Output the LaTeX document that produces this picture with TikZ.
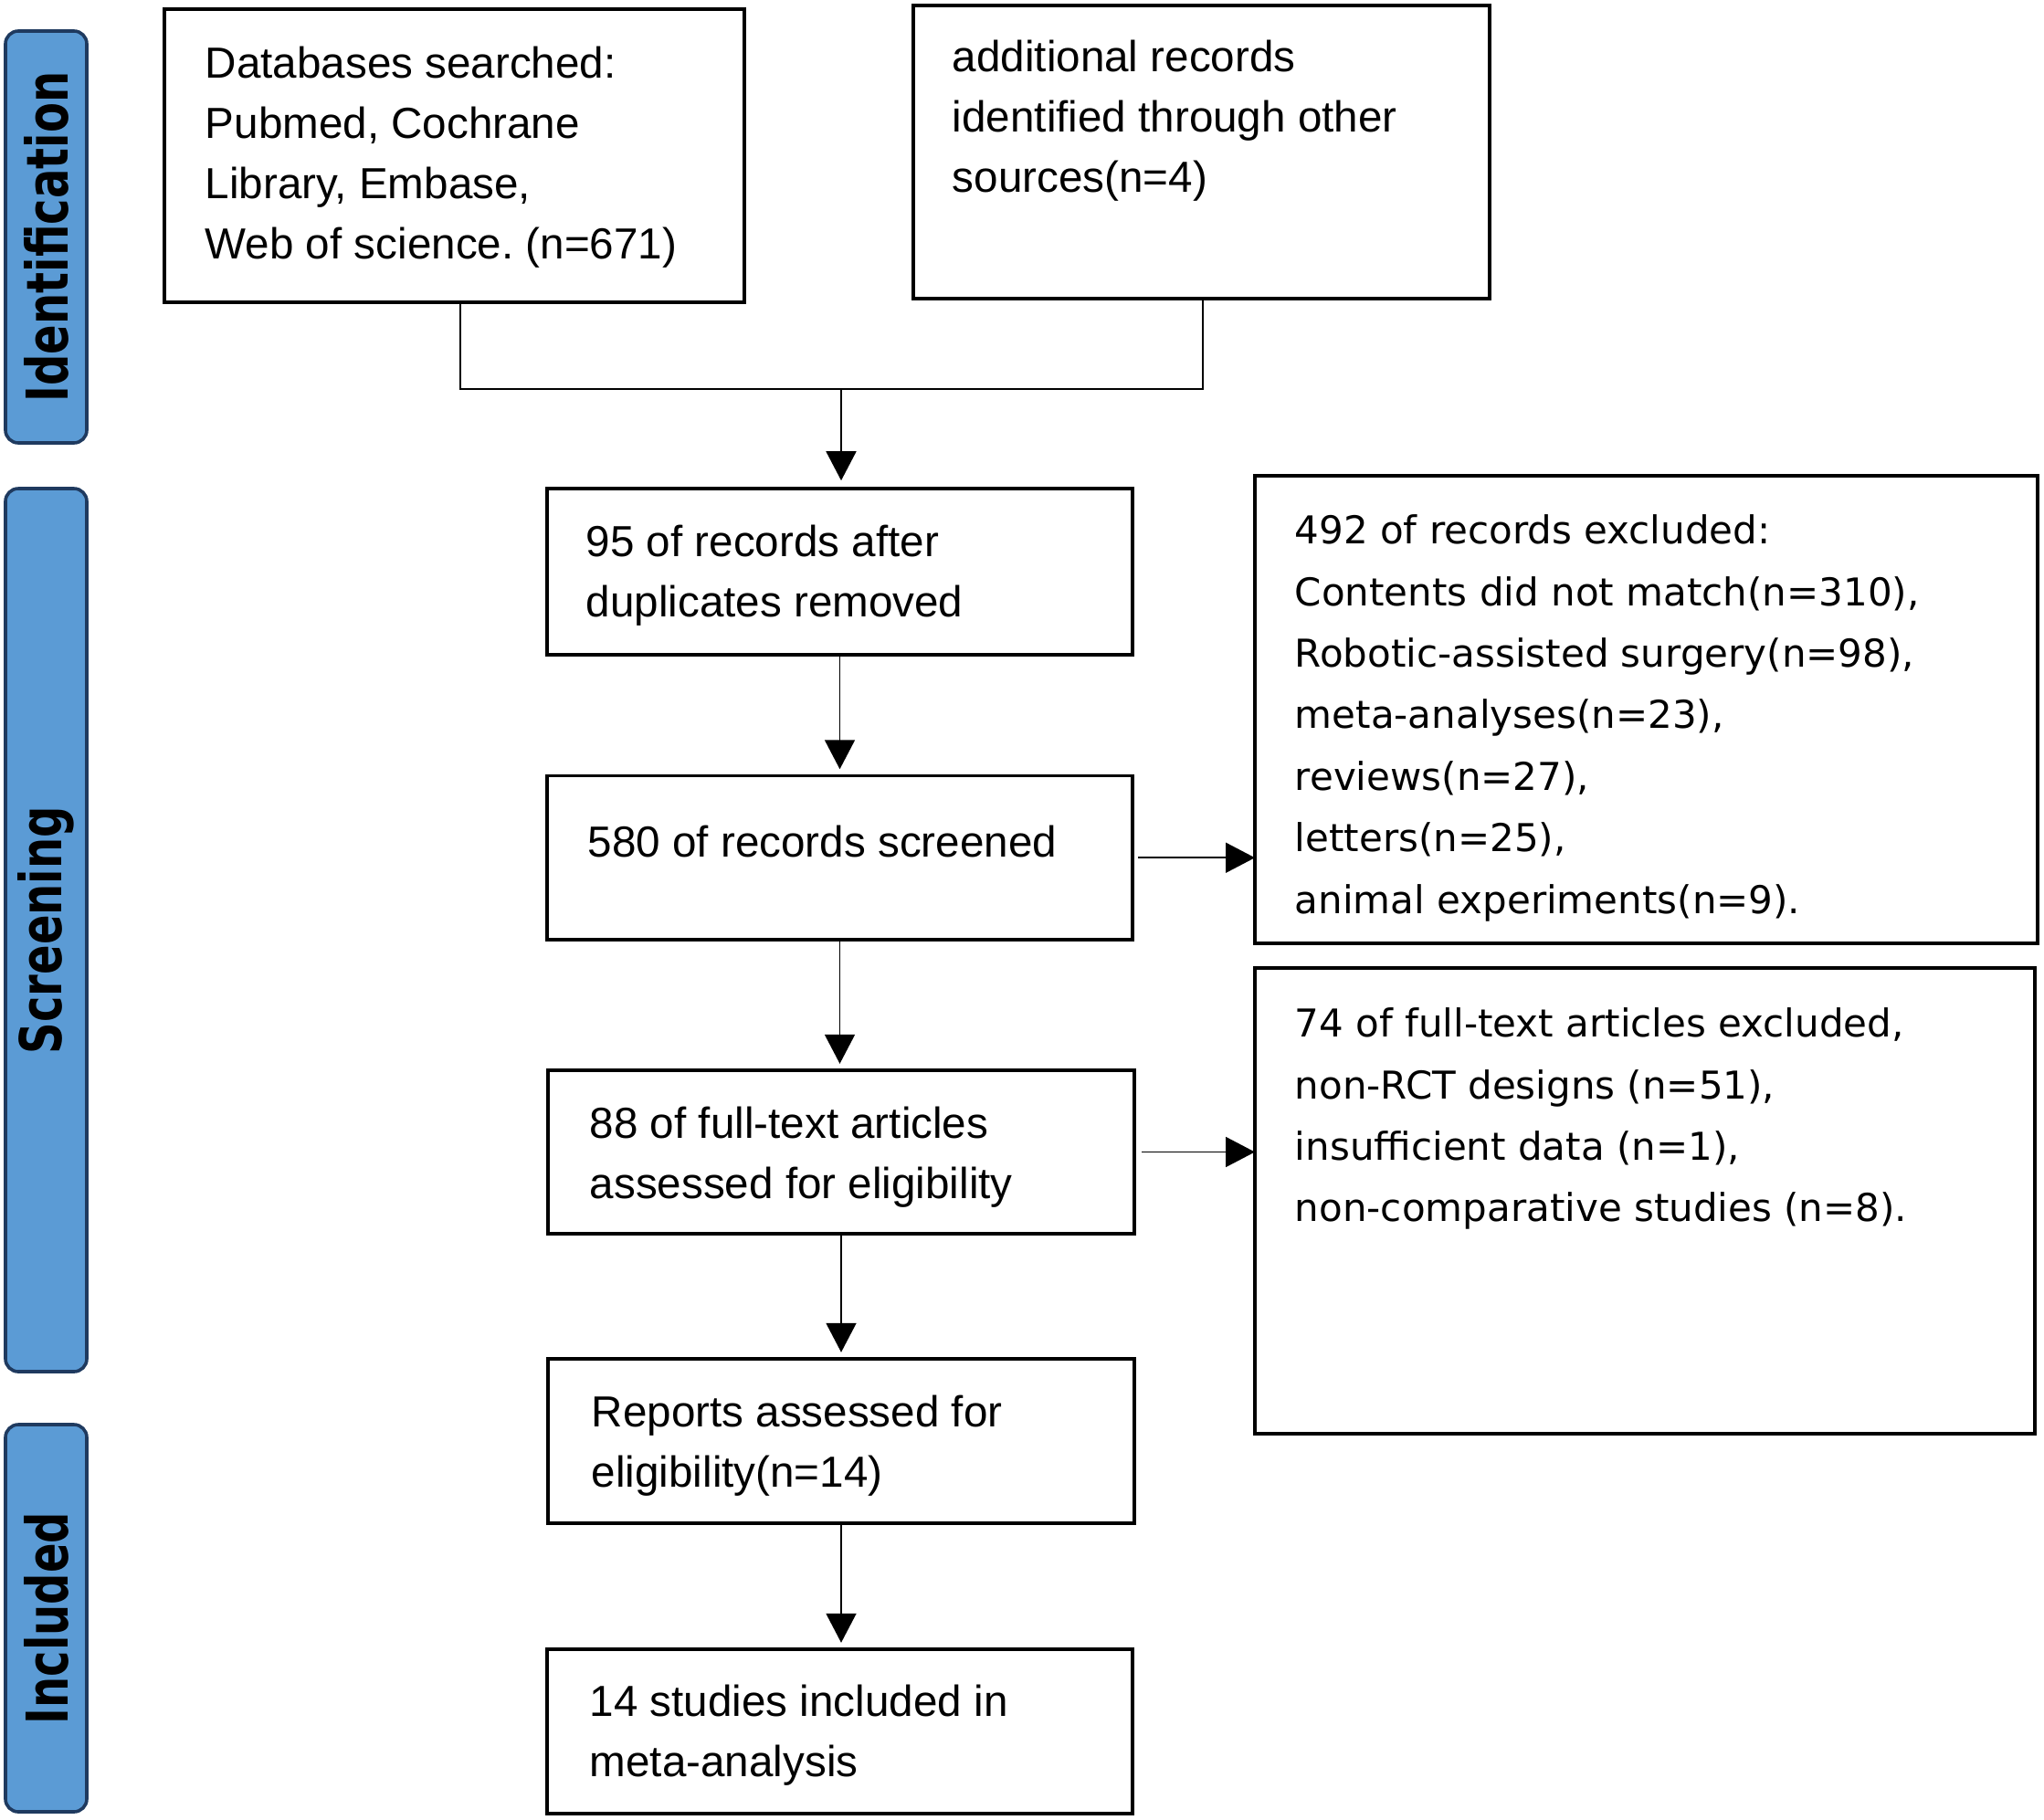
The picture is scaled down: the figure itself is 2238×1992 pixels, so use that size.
\documentclass[tikz,border=0pt]{standalone}
\usepackage{fontspec}
\setmainfont{Liberation Sans}
\newfontfamily\exfont{DejaVu Sans}
\newfontfamily\tabfont{DejaVu Sans}[FakeStretch=0.76]
\usetikzlibrary{arrows.meta}
\definecolor{tabfill}{HTML}{5B9BD5}
\definecolor{tabline}{HTML}{1F3A5F}
\frenchspacing
\begin{document}
\begin{tikzpicture}[x=0.25pt,y=-0.25pt,
  box/.style={draw, line width=0.9pt, rectangle, inner sep=0pt, outer sep=0pt},
  tab/.style={draw=tabline, fill=tabfill, line width=0.9pt, rounded corners=3.5pt,
    rotate=90, inner sep=0pt, minimum height=22.25pt,
    font=\tabfont\bfseries\fontsize{15.8}{19}\selectfont},
  mtxt/.style={anchor=north west, inner sep=0pt, align=left,
    font=\fontsize{11.9}{16.5}\selectfont},
  etxt/.style={anchor=north west, inner sep=0pt, align=left,
    font=\exfont\fontsize{10.5}{16.85}\selectfont},
  link/.style={line width=0.45pt},
  arr/.style={link, -{Triangle[length=8pt,width=8.25pt]}}]
\useasboundingbox (0,0) rectangle (2238,1992);

% side tabs
\node[tab, minimum width=112.75pt] (tabI) at (50.5,259.5) {Identification};
\node[tab, minimum width=241.75pt] (tabS) at (50.5,1018.5) {Screening};
\node[tab, minimum width=106pt] (tabN) at (50.5,1772) {Included};

% boxes
\node[box, minimum width=158.75pt, minimum height=80.25pt] (A) at (497.5,170.5) {};
\node[box, minimum width=157.75pt, minimum height=80.25pt] (B) at (1315.5,166.5) {};
\node[box, minimum width=160.25pt, minimum height=45.5pt] (C) at (919.5,626) {};
\node[box, minimum width=160.25pt, minimum height=44.9pt] (D) at (919.5,939.25) {};
\node[box, minimum width=160.5pt, minimum height=44.75pt] (E) at (921,1261.5) {};
\node[box, minimum width=160.5pt, minimum height=45pt] (F) at (921,1578) {};
\node[box, minimum width=160.25pt, minimum height=45pt] (G) at (919.5,1896) {};
\node[box, minimum width=214.25pt, minimum height=128pt] (H) at (1802.5,777) {};
\node[box, minimum width=213.5pt, minimum height=127.5pt] (I) at (1801,1315) {};

% texts
\node[mtxt] (tA) at (224,50) {Databases searched:\\Pubmed, Cochrane\\Library, Embase,\\Web of science. (n=671)};
\node[mtxt] (tB) at (1042,43) {additional records\\identified through other\\sources(n=4)};
\node[mtxt] (tC) at (641,574) {95 of records after\\duplicates removed};
\node[mtxt] (tD) at (643,903) {580 of records screened};
\node[mtxt] (tE) at (645,1211) {88 of full-text articles\\assessed for eligibility};
\node[mtxt] (tF) at (647,1527) {Reports assessed for\\eligibility(n=14)};
\node[mtxt] (tG) at (645,1844) {14 studies included in\\meta-analysis};
\node[etxt] (tH) at (1417,563) {492 of records excluded:\\Contents did not match(n=310),\\Robotic-assisted surgery(n=98),\\meta-analyses(n=23),\\reviews(n=27),\\letters(n=25),\\animal experiments(n=9).};
\node[etxt] (tI) at (1417,1103) {74 of full-text articles excluded,\\non-RCT designs (n=51),\\insufficient data (n=1),\\non-comparative studies (n=8).};

% connectors
\coordinate (jA) at (504,426);
\coordinate (jB) at (1317,426);
\coordinate (jM) at (921,426);
\draw[link] (A.south -| jA) -- (jA) -- (jB) -- (B.south -| jB);
\draw[arr, shorten >=2.2pt] (jM) -- (C.north -| jM);
\draw[arr, shorten >=1.8pt] (C.south) -- (C.south |- D.north);
\draw[arr, shorten >=1.8pt] (D.south) -- (D.south |- E.north);
\draw[arr, shorten >=1.8pt] (E.south) -- (E.south |- F.north);
\draw[arr, shorten >=1.8pt] (F.south) -- (F.south |- G.north);
\draw[arr, shorten <=1.5pt] (D.east) -- (D.east -| H.west);
\draw[arr, shorten <=2pt] (E.east) -- (E.east -| I.west);
\end{tikzpicture}
\end{document}
